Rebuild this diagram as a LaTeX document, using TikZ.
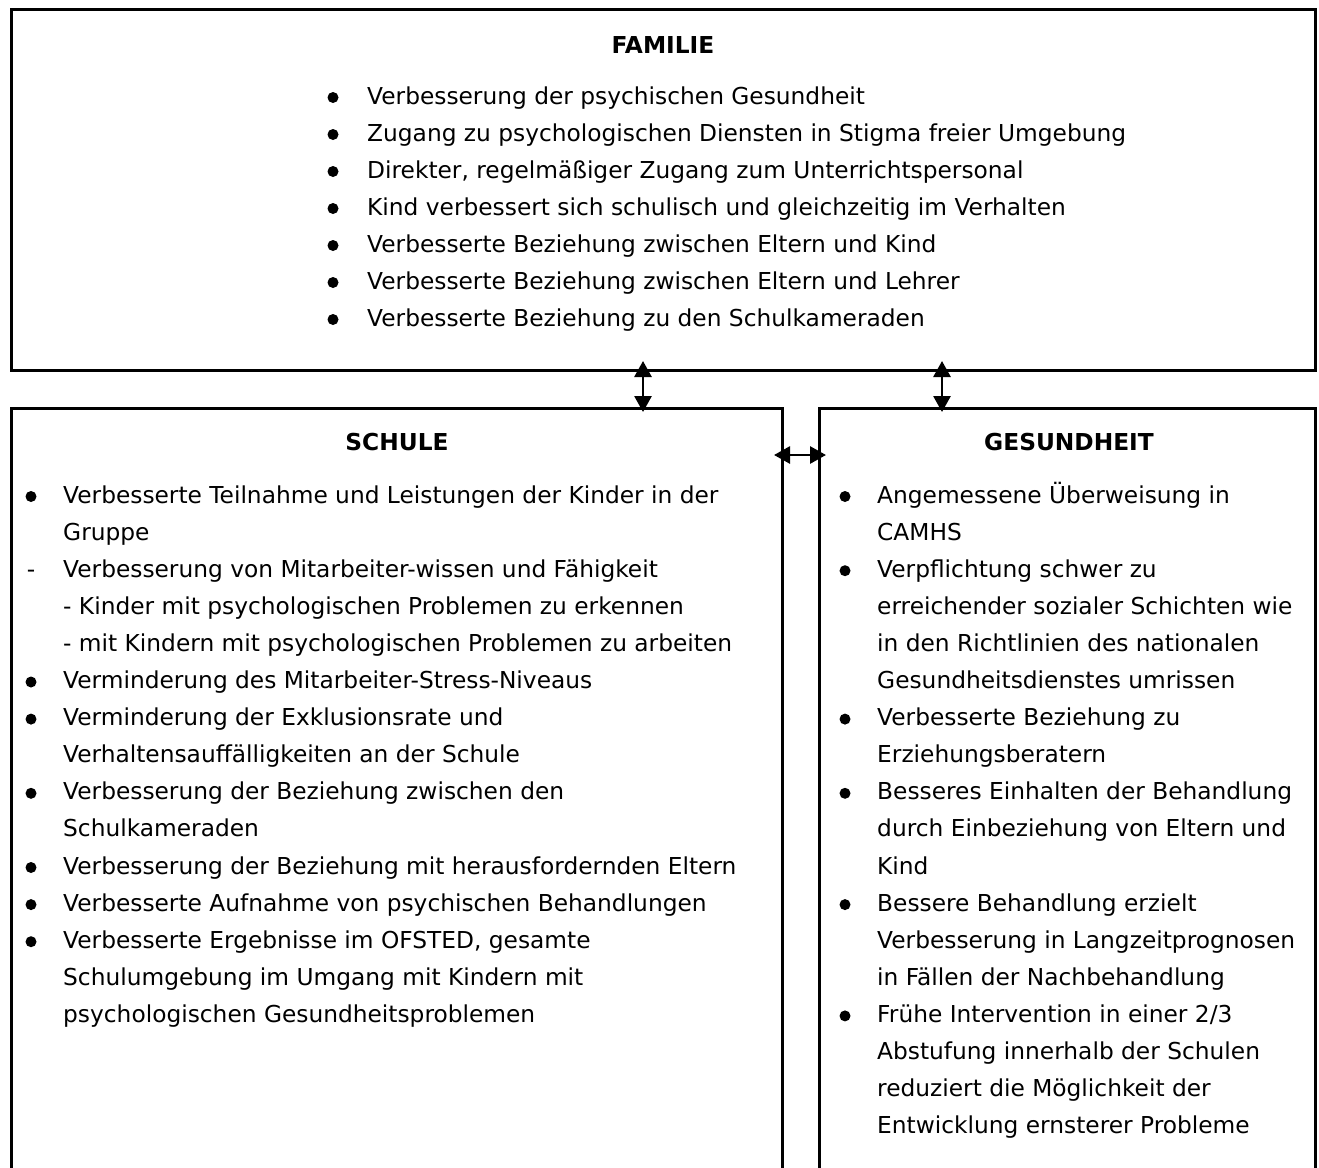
\documentclass[tikz,border=0pt]{standalone}
\usepackage{fontspec}
\setmainfont{DejaVu Sans}
\usetikzlibrary{arrows.meta}
\tikzset{
  txt/.style={anchor=base west, inner sep=0pt, font=\fontsize{23.3}{28}\selectfont},
  head/.style={anchor=base, inner sep=0pt, font=\fontsize{23.3}{28}\selectfont\bfseries},
  bul/.style={anchor=base, inner sep=0pt, font=\fontsize{23.3}{28}\selectfont},
  dot/.style={circle, fill=black, inner sep=0pt, minimum size=11pt},
  boxline/.style={line width=3pt},
  link/.style={line width=2.8pt, {Triangle[length=16pt,width=17pt]}-{Triangle[length=16pt,width=17pt]}}
}
\begin{document}
\begin{tikzpicture}[x=1pt,y=-1pt]
\useasboundingbox (0,0) rectangle (1319,1167);
% boxes
\draw[boxline] (11,9) rectangle (1315,370);
\draw[boxline] (11,1180) -- (11,408) -- (782,408) -- (782,1180);
\draw[boxline] (819,1180) -- (819,408) -- (1315,408) -- (1315,1180);
% headings
\node[head] (hfam) at (663,53) {FAMILIE};
\node[head] (hsch) at (397,450) {SCHULE};
\node[head] (hges) at (1069,450) {GESUNDHEIT};
% top list
\foreach \k/\t in {0/Verbesserung der psychischen Gesundheit,
  1/Zugang zu psychologischen Diensten in Stigma freier Umgebung,
  2/{Direkter, regelmäßiger Zugang zum Unterrichtspersonal},
  3/Kind verbessert sich schulisch und gleichzeitig im Verhalten,
  4/Verbesserte Beziehung zwischen Eltern und Kind,
  5/Verbesserte Beziehung zwischen Eltern und Lehrer,
  6/Verbesserte Beziehung zu den Schulkameraden}{
  \node[dot] (fb\k) at (333,97.5+37*\k) {};
  \node[txt] (ft\k) at (367,104+37*\k) {\t};
}
% left list
\foreach \k/\t in {0/Verbesserte Teilnahme und Leistungen der Kinder in der,
  1/Gruppe,
  2/Verbesserung von Mitarbeiter-wissen und Fähigkeit,
  3/- Kinder mit psychologischen Problemen zu erkennen,
  4/- mit Kindern mit psychologischen Problemen zu arbeiten,
  5/Verminderung des Mitarbeiter-Stress-Niveaus,
  6/Verminderung der Exklusionsrate und,
  7/Verhaltensauffälligkeiten an der Schule,
  8/Verbesserung der Beziehung zwischen den,
  9/Schulkameraden,
  10/Verbesserung der Beziehung mit herausfordernden Eltern,
  11/Verbesserte Aufnahme von psychischen Behandlungen,
  12/{Verbesserte Ergebnisse im OFSTED, gesamte},
  13/Schulumgebung im Umgang mit Kindern mit,
  14/psychologischen Gesundheitsproblemen}{
  \node[txt] (lt\k) at (63,503+37.1*\k) {\t};
}
\foreach \k in {0,5,6,8,10,11,12}{
  \node[dot] (lb\k) at (31,496.5+37.1*\k) {};
}
\node[bul] (ld2) at (31,503+37.1*2) {-};
% right list
\foreach \k/\t in {0/Angemessene Überweisung in,
  1/CAMHS,
  2/Verpflichtung schwer zu,
  3/erreichender sozialer Schichten wie,
  4/in den Richtlinien des nationalen,
  5/Gesundheitsdienstes umrissen,
  6/Verbesserte Beziehung zu,
  7/Erziehungsberatern,
  8/Besseres Einhalten der Behandlung,
  9/durch Einbeziehung von Eltern und,
  10/Kind,
  11/Bessere Behandlung erzielt,
  12/Verbesserung in Langzeitprognosen,
  13/in Fällen der Nachbehandlung,
  14/{Frühe Intervention in einer 2/3},
  15/Abstufung innerhalb der Schulen,
  16/reduziert die Möglichkeit der,
  17/Entwicklung ernsterer Probleme}{
  \node[txt] (rt\k) at (877,503+37.1*\k) {\t};
}
\foreach \k in {0,2,6,8,11,14}{
  \node[dot] (rb\k) at (845,496.5+37.1*\k) {};
}
% connectors
\coordinate (a1t) at (643,361);
\coordinate (a1b) at (643,412);
\coordinate (a2t) at (942,361);
\coordinate (a2b) at (942,412);
\coordinate (a3l) at (774,455);
\coordinate (a3r) at (826,455);
\draw[link] (a1t) -- (a1b);
\draw[link] (a2t) -- (a2b);
\draw[link] (a3l) -- (a3r);
\end{tikzpicture}
\end{document}
